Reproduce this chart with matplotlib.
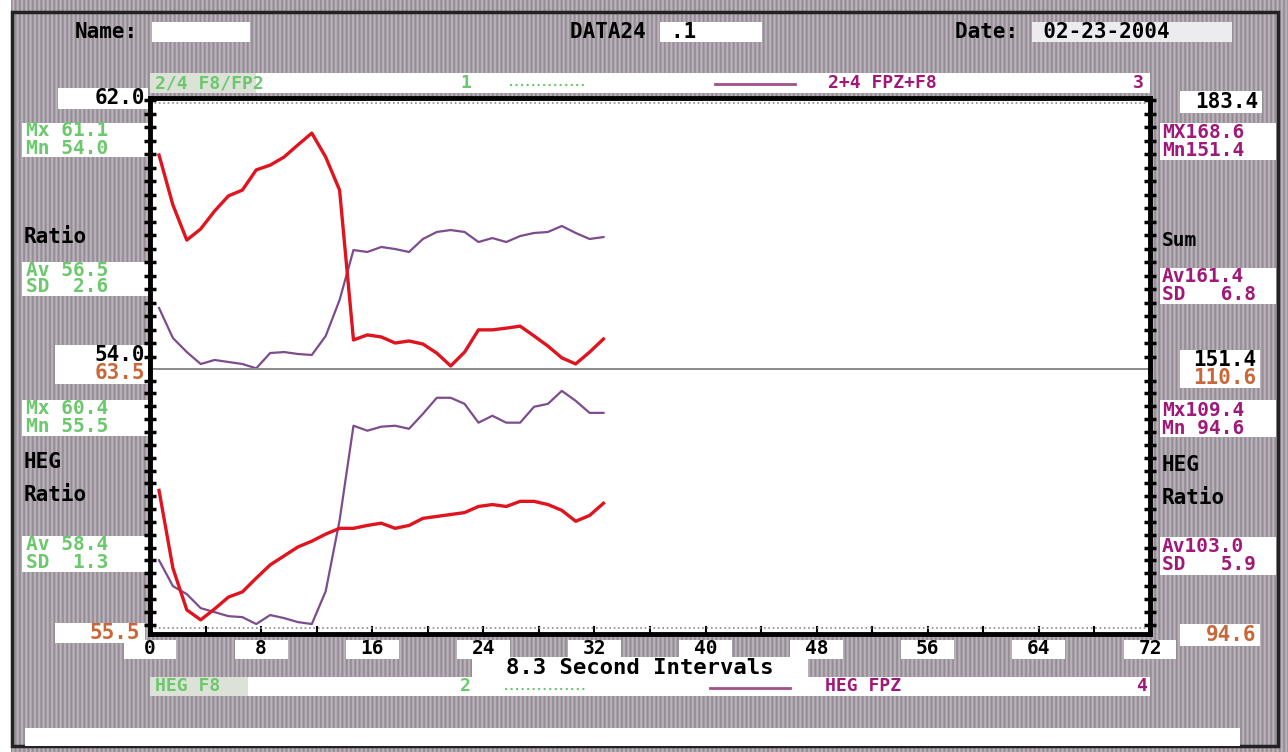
import numpy as np
import matplotlib
matplotlib.use('Agg')
import matplotlib.pyplot as plt
from matplotlib.patches import Rectangle
from matplotlib.ticker import MultipleLocator
from matplotlib.transforms import blended_transform_factory

W, H = 1288, 752

# 8.3 second intervals, one sample each
intervals = np.arange(33) + 0.65

# top panel: 2/4 F8/FP2 ratio (left scale) and 2+4 FPZ+F8 sum (right scale)
ratio_f8_fp2 = [60.37, 58.89, 57.85, 58.18, 58.71, 59.16, 59.33, 59.93, 60.07, 60.31, 60.67,
                61.02, 60.31, 59.33, 54.89, 55.04, 54.98, 54.80, 54.86, 54.77, 54.50, 54.12,
                54.53, 55.19, 55.19, 55.24, 55.30, 55.01, 54.71, 54.36, 54.18, 54.53, 54.92]
sum_fpz_f8 = [158.75, 155.19, 153.53, 152.11, 152.59, 152.35, 152.11, 151.6, 153.41, 153.53,
              153.30, 153.18, 155.43, 159.70, 165.62, 165.39, 165.98, 165.74, 165.39, 166.93,
              167.76, 167.99, 167.76, 166.57, 167.04, 166.57, 167.28, 167.64, 167.76, 168.47,
              167.64, 166.93, 167.16]

# bottom panel: HEG F8 (left scale) and HEG FPZ (right scale)
heg_f8 = [59.78, 57.36, 56.06, 55.75, 56.09, 56.46, 56.62, 57.05, 57.46, 57.74, 58.02,
          58.20, 58.42, 58.60, 58.60, 58.69, 58.76, 58.60, 58.69, 58.91, 58.97, 59.03,
          59.09, 59.28, 59.34, 59.28, 59.44, 59.44, 59.34, 59.16, 58.82, 59.00, 59.38]
heg_fpz = [98.82, 97.21, 96.71, 95.84, 95.59, 95.34, 95.28, 94.85, 95.41, 95.22, 94.97,
           94.85, 96.89, 101.30, 107.19, 106.88, 107.13, 107.19, 107.00, 107.93, 108.93,
           108.93, 108.55, 107.38, 107.81, 107.38, 107.38, 108.37, 108.55, 109.36, 108.74,
           107.99, 107.99]

x_labels = [0, 8, 16, 24, 32, 40, 48, 56, 64, 72]

RED = '#e0141e'
PURPLE_LINE = '#7c4c8c'
PURPLE = '#a01878'
GREEN = '#6cc86c'
ORANGE = '#c8683a'
MONO = 'DejaVu Sans Mono'

fig = plt.figure(figsize=(W / 100, H / 100), dpi=100)

# screen background with vertical scan stripes
bg = fig.add_axes([0, 0, 1, 1], zorder=-10)
cols = np.arange(W)
v = 0.66 + 0.08 * np.cos(2 * np.pi * cols / 4.3)
stripes = np.ones((H, W, 3)) * v[None, :, None] * np.array([1.0, 0.95, 1.0])
bg.imshow(stripes, aspect='auto', extent=(0, W, H, 0))
bg.set_xlim(0, W)
bg.set_ylim(H, 0)
bg.axis('off')
bg.add_patch(Rectangle((0, 0), 11, H, fc='white', ec='none'))
bg.add_patch(Rectangle((12, 12), 1266, 734, fill=False, ec='#222222', lw=2.5))


def box(x0, y0, x1, y1, fc='white'):
    bg.add_patch(Rectangle((x0, y0), x1 - x0, y1 - y0, fc=fc, ec='none'))


def put(x, y, s, color='black', size=14, ha='left'):
    bg.text(x, y, s, color=color, fontsize=size, family=MONO, weight='bold',
            ha=ha, va='center')


# header
put(75, 32, 'Name:', size=15)
box(152, 22, 250, 42)
box(660, 22, 762, 42)
put(570, 32, 'DATA24  .1', size=15)
box(1032, 22, 1232, 42, fc='#ecebee')
put(955, 32, 'Date:  02-23-2004', size=15)

# top legend strip
box(150, 73, 1150, 93)
box(150, 73, 256, 93, fc='#dde2d8')
put(155, 83, '2/4 F8/FP2', GREEN, 13)
put(460, 83, '1', GREEN, 13)
bg.plot([510, 585], [85, 85], color=GREEN, ls=':', lw=1.5)
bg.plot([715, 795], [84, 84], color='#a0508a', lw=2)
put(828, 83, '2+4 FPZ+F8', PURPLE, 13)
put(1133, 83, '3', PURPLE, 13)

# bottom legend strip and axis title
box(150, 677, 1150, 696)
box(150, 677, 248, 696, fc='#dde2d8')
box(472, 657, 808, 696)
put(155, 686, 'HEG F8', GREEN, 13)
put(460, 686, '2', GREEN, 13)
bg.plot([505, 585], [689, 689], color=GREEN, ls=':', lw=1.5)
bg.plot([710, 790], [688, 688], color='#a0508a', lw=2)
put(825, 686, 'HEG FPZ', PURPLE, 13)
put(1136, 686, '4', PURPLE, 13)
put(640, 668, '8.3 Second Intervals', size=16, ha='center')

box(25, 728, 1240, 746)

# left side readouts
box(58, 88, 148, 109)
put(145, 98, '62.0', size=15, ha='right')
box(22, 123, 150, 157)
put(26, 131, 'Mx 61.1', GREEN, 14)
put(26, 148, 'Mn 54.0', GREEN, 14)
put(24, 237, 'Ratio', size=15)
box(22, 262, 150, 296)
put(26, 270, 'Av 56.5', GREEN, 14)
put(26, 287, 'SD  2.6', GREEN, 14)
box(55, 345, 148, 384)
put(145, 355, '54.0', size=15, ha='right')
put(145, 373, '63.5', ORANGE, 15, ha='right')
box(22, 400, 150, 436)
put(26, 409, 'Mx 60.4', GREEN, 14)
put(26, 426, 'Mn 55.5', GREEN, 14)
put(24, 462, 'HEG', size=15)
put(24, 495, 'Ratio', size=15)
box(22, 536, 150, 572)
put(26, 545, 'Av 58.4', GREEN, 14)
put(26, 562, 'SD  1.3', GREEN, 14)
box(55, 623, 145, 643)
put(140, 633, '55.5', ORANGE, 15, ha='right')

# right side readouts
box(1180, 91, 1262, 113)
put(1258, 102, '183.4', size=15, ha='right')
box(1160, 123, 1276, 160)
put(1162, 133, 'MX168.6', PURPLE, 14)
put(1162, 150, 'Mn151.4', PURPLE, 14)
put(1162, 241, 'Sum', size=14)
box(1160, 268, 1276, 304)
put(1162, 277, 'Av161.4', PURPLE, 14)
put(1162, 294, 'SD   6.8', PURPLE, 14)
box(1180, 350, 1260, 388)
put(1256, 360, '151.4', size=15, ha='right')
put(1256, 378, '110.6', ORANGE, 15, ha='right')
box(1160, 400, 1276, 437)
put(1162, 410, 'Mx109.4', PURPLE, 14)
put(1162, 428, 'Mn 94.6', PURPLE, 14)
put(1162, 465, 'HEG', size=15)
put(1162, 498, 'Ratio', size=15)
box(1160, 537, 1276, 575)
put(1162, 546, 'Av103.0', PURPLE, 14)
put(1162, 565, 'SD   5.9', PURPLE, 14)
box(1180, 624, 1260, 646)
put(1256, 635, '94.6', ORANGE, 15, ha='right')


def rect(l, t, r, b):
    return [l / W, 1 - b / H, (r - l) / W, (b - t) / H]


ax1 = fig.add_axes(rect(150, 98, 1150, 369), zorder=1)
ax2 = fig.add_axes(rect(150, 369, 1150, 634), zorder=1)
ax1r = ax1.twinx()
ax2r = ax2.twinx()

for a, ar in ((ax1, ax1r), (ax2, ax2r)):
    ar.set_zorder(0.5)
    a.set_zorder(1)
    a.patch.set_visible(False)
    ar.patch.set_visible(True)
    ar.patch.set_facecolor('white')
    for s in ar.spines.values():
        s.set_visible(False)
    ar.tick_params(right=False, labelright=False)
    a.set_xlim(0, 72)
    ar.set_xlim(0, 72)
    a.tick_params(axis='y', which='both', left=True, right=True, direction='inout',
                  length=8, width=2.5, labelleft=False)
    for side in ('left', 'right'):
        a.spines[side].set_linewidth(3.5)

ax1.set_ylim(54.03, 62.06)
ax1r.set_ylim(151.52, 183.64)
ax2.set_ylim(55.31, 63.56)
ax2r.set_ylim(94.23, 110.72)
ax1.yaxis.set_major_locator(MultipleLocator(0.4))
ax2.yaxis.set_major_locator(MultipleLocator(0.4))

ax1.spines['top'].set_linewidth(3.5)
ax1.spines['bottom'].set_visible(False)
ax2.spines['top'].set_visible(False)
ax2.spines['bottom'].set_linewidth(3.5)
ax1.tick_params(axis='x', bottom=False, labelbottom=False)
ax2.xaxis.set_major_locator(MultipleLocator(4))
ax2.tick_params(axis='x', direction='in', length=6, width=1.5, labelbottom=False)

ax1.axhline(61.9, color='#8a8a8a', ls=':', lw=1.2)
ax1.axhline(54.03, color='#8a8a8a', lw=1.4, clip_on=False)
ax2.axhline(55.5, color='#8a8a8a', ls=':', lw=1.2)

ax1r.plot(intervals, sum_fpz_f8, color=PURPLE_LINE, lw=1.6)
ax1.plot(intervals, ratio_f8_fp2, color=RED, lw=2.4)
ax2r.plot(intervals, heg_fpz, color=PURPLE_LINE, lw=1.6)
ax2.plot(intervals, heg_f8, color=RED, lw=2.4)

# x tick labels in white cells under the frame
tr = blended_transform_factory(ax2.transData, bg.transData)
for v in x_labels:
    bg.add_patch(Rectangle((v - 1.9, 640), 3.8, 19, fc='white', ec='none', transform=tr))
    bg.text(v, 649, str(v), transform=tr, ha='center', va='center', fontsize=14,
            family=MONO, weight='bold', color='black')

fig.savefig('out.png', dpi=100)
